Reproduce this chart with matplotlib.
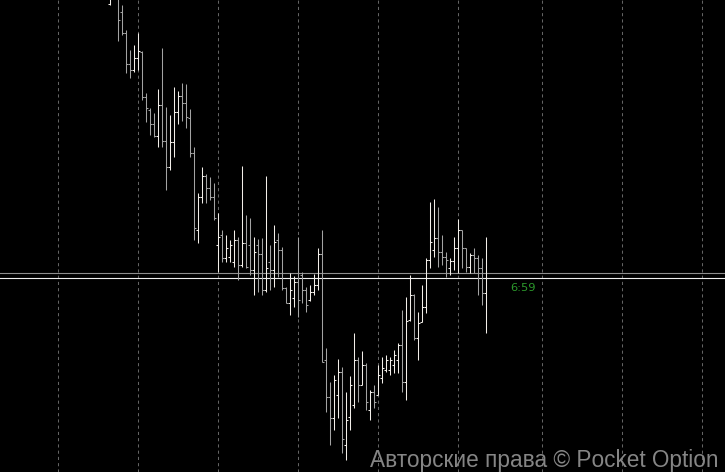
"""OHLC bar chart on a black background (Pocket Option style)."""

import matplotlib.pyplot as plt
import numpy as np

# price values (arbitrary units), one entry per bar
opens = [496, 502, 508, 488, 467, 436, 430, 442, 448, 403,
         390, 376, 364, 395, 359, 333, 358, 388, 404, 397,
         382, 347, 270, 303, 324, 312, 303, 255, 265, 242,
         243, 238, 260, 235, 257, 255, 230, 255, 246, 210,
         238, 230, 260, 250, 212, 197, 202, 218, 225, 210,
         200, 208, 215, 246, 140, 103, 82, 105, 128, 55,
         83, 95, 140, 115, 135, 90, 108, 105, 122, 130,
         130, 135, 140, 155, 118, 180, 205, 162, 178, 193,
         240, 250, 262, 248, 243, 232, 239, 252, 270, 252,
         233, 245, 242, 232, 207]
highs = [508, 518, 512, 495, 470, 450, 455, 467, 449, 407,
         392, 387, 411, 452, 393, 385, 413, 409, 417, 416,
         391, 353, 307, 333, 326, 323, 317, 287, 270, 265,
         260, 270, 263, 334, 285, 282, 263, 261, 262, 324,
         255, 275, 267, 253, 213, 227, 224, 263, 228, 213,
         215, 226, 252, 270, 152, 118, 125, 141, 133, 108,
         124, 167, 143, 149, 137, 110, 115, 135, 143, 145,
         143, 150, 157, 190, 203, 225, 206, 188, 215, 242,
         298, 301, 293, 265, 248, 242, 263, 281, 270, 252,
         247, 252, 245, 242, 263]
lows = [495, 501, 459, 465, 427, 422, 428, 430, 400, 378,
        365, 363, 353, 353, 310, 330, 343, 376, 379, 372,
        343, 260, 257, 297, 297, 300, 280, 228, 238, 238,
        238, 233, 220, 233, 232, 225, 205, 208, 205, 208,
        210, 213, 223, 210, 197, 185, 193, 183, 197, 188,
        199, 205, 210, 138, 88, 55, 70, 82, 47, 40,
        70, 92, 98, 115, 90, 80, 92, 105, 117, 128,
        125, 127, 127, 108, 100, 179, 160, 140, 178, 187,
        232, 243, 233, 235, 223, 225, 230, 227, 232, 228,
        227, 227, 205, 195, 167]
closes = [502, 510, 480, 467, 436, 430, 442, 449, 403, 392,
          376, 364, 395, 359, 333, 358, 388, 404, 397, 383,
          347, 272, 303, 324, 312, 303, 282, 263, 242, 252,
          255, 260, 235, 257, 233, 230, 248, 246, 210, 232,
          230, 258, 250, 212, 197, 210, 218, 200, 210, 195,
          208, 215, 246, 138, 103, 82, 120, 128, 61, 80,
          115, 140, 115, 135, 98, 108, 98, 125, 132, 140,
          140, 145, 155, 118, 179, 205, 162, 177, 193, 240,
          258, 262, 248, 243, 240, 239, 252, 270, 252, 233,
          245, 242, 232, 207, 222]

ask_price = 227
bid_price = closes[-1]
timer_label = "6:59"
watermark = "Авторские права © Pocket Option"
grid_bars = [-13, 7, 27, 47, 67, 87, 108, 128, 148]

UP_COLOR = "#f2eee9"
DOWN_COLOR = "#a3a3a3"


def main() -> None:
    o = np.array(opens)
    h = np.array(highs)
    l = np.array(lows)
    c = np.array(closes)
    x = np.arange(len(o))
    colors = [UP_COLOR if cc >= oo else DOWN_COLOR for oo, cc in zip(o, c)]

    fig = plt.figure(figsize=(7.25, 4.72), dpi=100, facecolor="black")
    ax = fig.add_axes([0, 0, 1, 1], facecolor="black")
    ax.set_xlim(-27.425, 153.825)
    ax.set_ylim(28, 500)
    ax.set_axis_off()

    # dashed time grid
    for gx in grid_bars:
        ax.axvline(gx, color="#646464", linewidth=0.75, linestyle=(0, (3, 3)), zorder=1)

    # bid / ask lines
    ax.axhline(ask_price, color="#8e8e8e", linewidth=0.8, zorder=2)
    ax.axhline(bid_price, color="#f0f0f0", linewidth=0.8, zorder=2)

    # OHLC bars
    tick = 0.5
    ax.vlines(x, l, h, colors=colors, linewidth=0.75, zorder=3)
    ax.hlines(o, x - tick, x, colors=colors, linewidth=0.75, zorder=3)
    ax.hlines(c, x, x + tick, colors=colors, linewidth=0.75, zorder=3)

    fig.text(510 / 725, 1 - 288 / 472, timer_label, color="#2c9a2c",
             fontsize=8.2, ha="left", va="center", family="DejaVu Sans")
    fig.text(718 / 725, 1 - 467 / 472, watermark, color="#858585",
             fontsize=16.3, ha="right", va="baseline", family="Liberation Sans")

    fig.savefig("out.png", dpi=100, facecolor="black")
    plt.close(fig)


if __name__ == "__main__":
    main()
